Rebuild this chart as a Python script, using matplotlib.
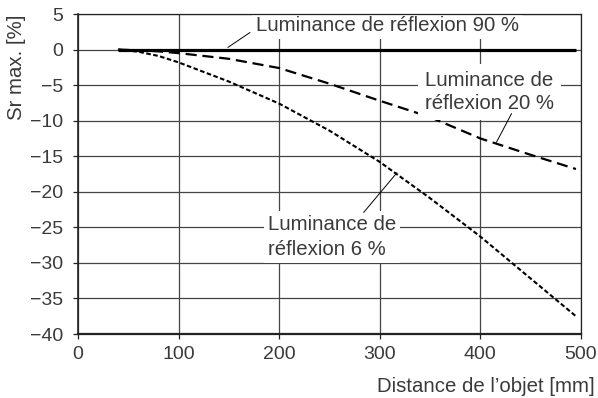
import numpy as np
import matplotlib
matplotlib.use("Agg")
import matplotlib.pyplot as plt

# Distance de l'objet (mm) and Sr max. (%) for each reflection luminance
distance = [40, 60, 80, 100, 150, 200, 250, 300, 350, 400, 450, 495]
sr_90 = [0, 0, 0, 0, 0, 0, 0, 0, 0, 0, 0, 0]
sr_20 = [0, -0.1, -0.25, -0.5, -1.3, -2.6, -4.8, -7.2, -9.5, -12.5, -14.8, -16.8]
sr_6 = [0, -0.3, -0.9, -1.8, -4.5, -7.6, -11.4, -15.8, -20.9, -26.3, -32.2, -37.5]

x_ticks = [0, 100, 200, 300, 400, 500]
y_ticks = [5, 0, -5, -10, -15, -20, -25, -30, -35, -40]

label_90 = "Luminance de réflexion 90 %"
label_20 = "Luminance de\nréflexion 20 %"
label_6 = "Luminance de\nréflexion 6 %"

plt.rcParams["font.family"] = ["Liberation Sans", "DejaVu Sans"]
text_color = "#3a3a3a"
text_size = 14.7

fig = plt.figure(figsize=(5.98, 3.98), dpi=100)
ax = fig.add_axes([0.1304, 0.1608, 0.8411, 0.8040])

ax.plot(distance, sr_90, color="black", lw=2.3, solid_capstyle="butt", zorder=3)
ax.plot(distance, sr_20, color="black", lw=1.6, linestyle=(0, (5, 2.6)), zorder=3)
ax.plot(distance, sr_6, color="black", lw=1.5, linestyle=(0, (2.2, 1.2)), zorder=3)

ax.set_xlim(0, 500)
ax.set_ylim(-40, 5)
ax.set_xticks(x_ticks)
ax.set_yticks(y_ticks)
ax.grid(True, color="#454545", lw=0.9, zorder=1)
ax.set_axisbelow(True)

for side, sp in ax.spines.items():
    sp.set_color("#222222")
    sp.set_zorder(6)
    sp.set_linewidth(0.9)
ax.spines["bottom"].set_linewidth(1.6)
ax.spines["left"].set_linewidth(1.2)

ax.tick_params(axis="both", direction="out", length=3.6, width=0.9,
               color="#222222", labelsize=14, labelcolor=text_color)
ax.tick_params(axis="y", pad=7)
ax.tick_params(axis="x", pad=5)

ax.set_ylabel("Sr max. [%]", fontsize=text_size, color=text_color, loc="top", labelpad=3)
fig.text(595 / 598, 1 - 387 / 398, "Distance de l\u2019objet [mm]", fontsize=text_size,
         color=text_color, ha="right", va="center")

box = dict(facecolor="white", edgecolor="none", pad=3)
leader = dict(arrowstyle="-", color="black", lw=0.7, shrinkA=0, shrinkB=0)

# 90 % label with leader to the solid line
ax.text(177, 3.4, label_90, fontsize=text_size, color=text_color, ha="left", va="center",
        bbox=box, zorder=4)
ax.annotate("", xy=(149, np.interp(149, distance, sr_90) + 0.3), xytext=(171, 2.4),
            arrowprops=leader, zorder=4)

# 20 % label with leader to the dashed line
ax.text(345, -5.95, label_20, fontsize=text_size, color=text_color, ha="left", va="center",
        linespacing=1.25, bbox=dict(facecolor="white", edgecolor="none", pad=5), zorder=4)
ax.annotate("", xy=(416, np.interp(416, distance, sr_20) + 0.2), xytext=(431, -9.0),
            arrowprops=leader, zorder=4)

# 6 % label with leader to the dotted line
ax.text(189, -26.4, label_6, fontsize=text_size, color=text_color, ha="left", va="center",
        linespacing=1.4, bbox=box, zorder=4)
ax.annotate("", xy=(317, np.interp(317, distance, sr_6) + 0.2), xytext=(284, -22.9),
            arrowprops=leader, zorder=4)

fig.savefig("out.png", dpi=100)
